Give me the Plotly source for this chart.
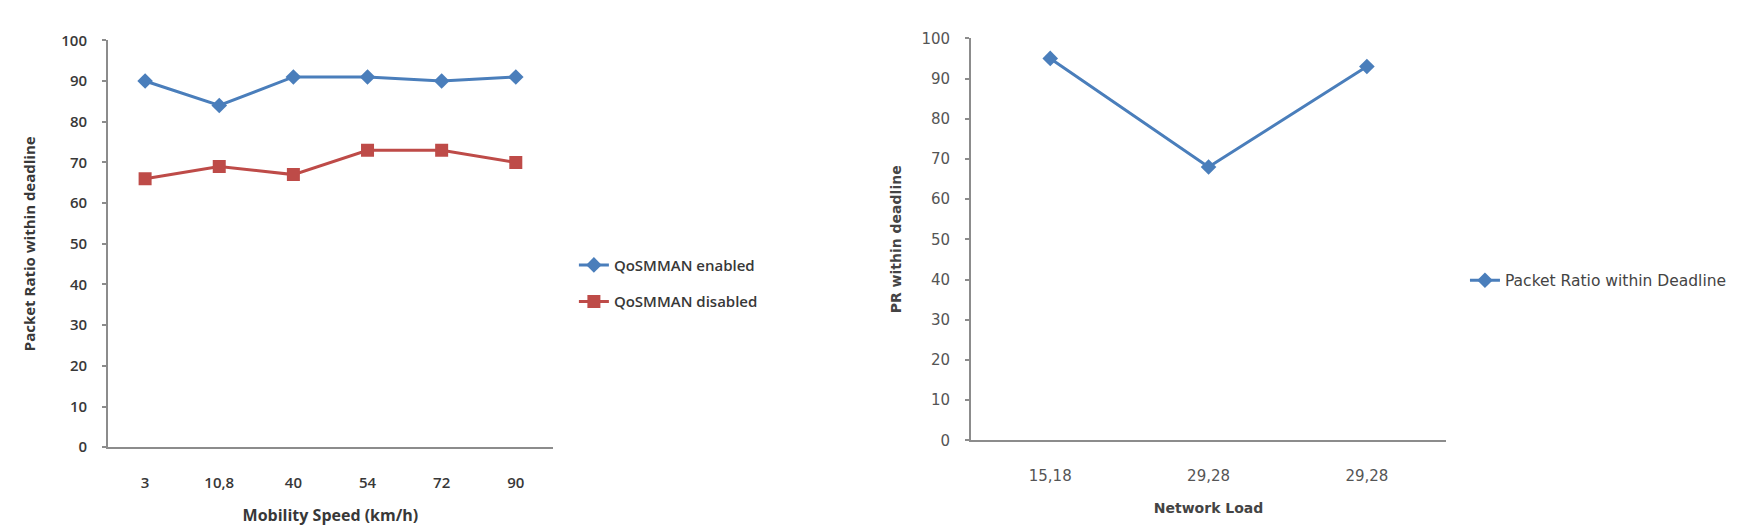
import plotly.graph_objects as go

# left chart: mobility speed
speed_labels = ["3", "10,8", "40", "54", "72", "90"]
qos_enabled = [90, 84, 91, 91, 90, 91]
qos_disabled = [66, 69, 67, 73, 73, 70]

# right chart: network load (two categories share the same label)
load_labels = ["15,18", "29,28", "29,28"]
pr_deadline = [95, 68, 93]

BLUE = "#4A7EBB"
RED = "#BE4B48"
AXIS = "#8C8C8C"
TXT = "#383838"

fig = go.Figure()

fig.add_trace(go.Scatter(x=speed_labels, y=qos_enabled, name="QoSMMAN enabled",
                         mode="lines+markers", xaxis="x", yaxis="y",
                         legend="legend", legendgroup="en",
                         line=dict(color=BLUE, width=3),
                         marker=dict(symbol="diamond", size=12, color=BLUE)))
fig.add_trace(go.Scatter(x=speed_labels, y=qos_disabled, name="QoSMMAN disabled",
                         mode="lines+markers", xaxis="x", yaxis="y",
                         legend="legend", legendgroup="dis",
                         line=dict(color=RED, width=3),
                         marker=dict(symbol="square", size=13, color=RED)))

load_pos = list(range(len(load_labels)))
fig.add_trace(go.Scatter(x=load_pos, y=pr_deadline, name="Packet Ratio within Deadline",
                         mode="lines+markers", xaxis="x2", yaxis="y2", legend="legend2",
                         line=dict(color=BLUE, width=3),
                         marker=dict(symbol="diamond", size=12, color=BLUE)))

left_font = dict(family="Open Sans", size=15, color=TXT, weight=600)
right_font = dict(family="DejaVu Sans", size=15, color="#555555")

common_y = dict(range=[0, 100], dtick=10, showgrid=False, zeroline=False,
                showline=True, linecolor=AXIS, linewidth=2,
                ticks="outside", ticklen=4, tickcolor=AXIS, tickwidth=2,
                ticklabelstandoff=12)

fig.update_layout(
    width=1752, height=528,
    margin=dict(l=0, r=0, t=0, b=0),
    paper_bgcolor="white", plot_bgcolor="white",
    xaxis=dict(domain=[0.0571, 0.311], range=[-0.5, 5.5], type="category",
               showgrid=False, showline=True, linecolor=AXIS, linewidth=2,
               ticks="", ticklabelstandoff=21, tickfont=left_font,
               title=dict(text="<b>Mobility Speed (km/h)</b>",
                          font=dict(family="Open Sans", size=16, color=TXT), standoff=19),
               anchor="y"),
    yaxis=dict(**common_y, domain=[0.157, 0.958], anchor="x", tickfont=left_font,
               title=dict(text="<b>Packet Ratio within deadline</b>",
                          font=dict(family="Open Sans", size=15, color=TXT), standoff=22)),
    xaxis2=dict(domain=[0.5497, 0.8208], range=[-0.5, 2.5],
                tickvals=load_pos, ticktext=load_labels,
                showgrid=False, zeroline=False, showline=True, linecolor=AXIS, linewidth=2,
                ticks="", ticklabelstandoff=21, tickfont=right_font,
                title=dict(text="<b>Network Load</b>",
                           font=dict(family="DejaVu Sans", size=14, color="#444444"), standoff=19),
                anchor="y2"),
    yaxis2=dict(**common_y, domain=[0.1705, 0.962], anchor="x2", tickfont=right_font,
                title=dict(text="<b>PR within deadline</b>",
                           font=dict(family="DejaVu Sans", size=14, color="#444444"), standoff=17)),
    legend=dict(x=0.323, y=0.48, xanchor="left", yanchor="middle",
                font=dict(family="Open Sans", size=15, color=TXT, weight=600),
                tracegroupgap=14),
    legend2=dict(x=0.8316, y=0.485, xanchor="left", yanchor="middle",
                 font=dict(family="DejaVu Sans", size=15.5, color="#444444")),
)

fig.write_html("out.html")
